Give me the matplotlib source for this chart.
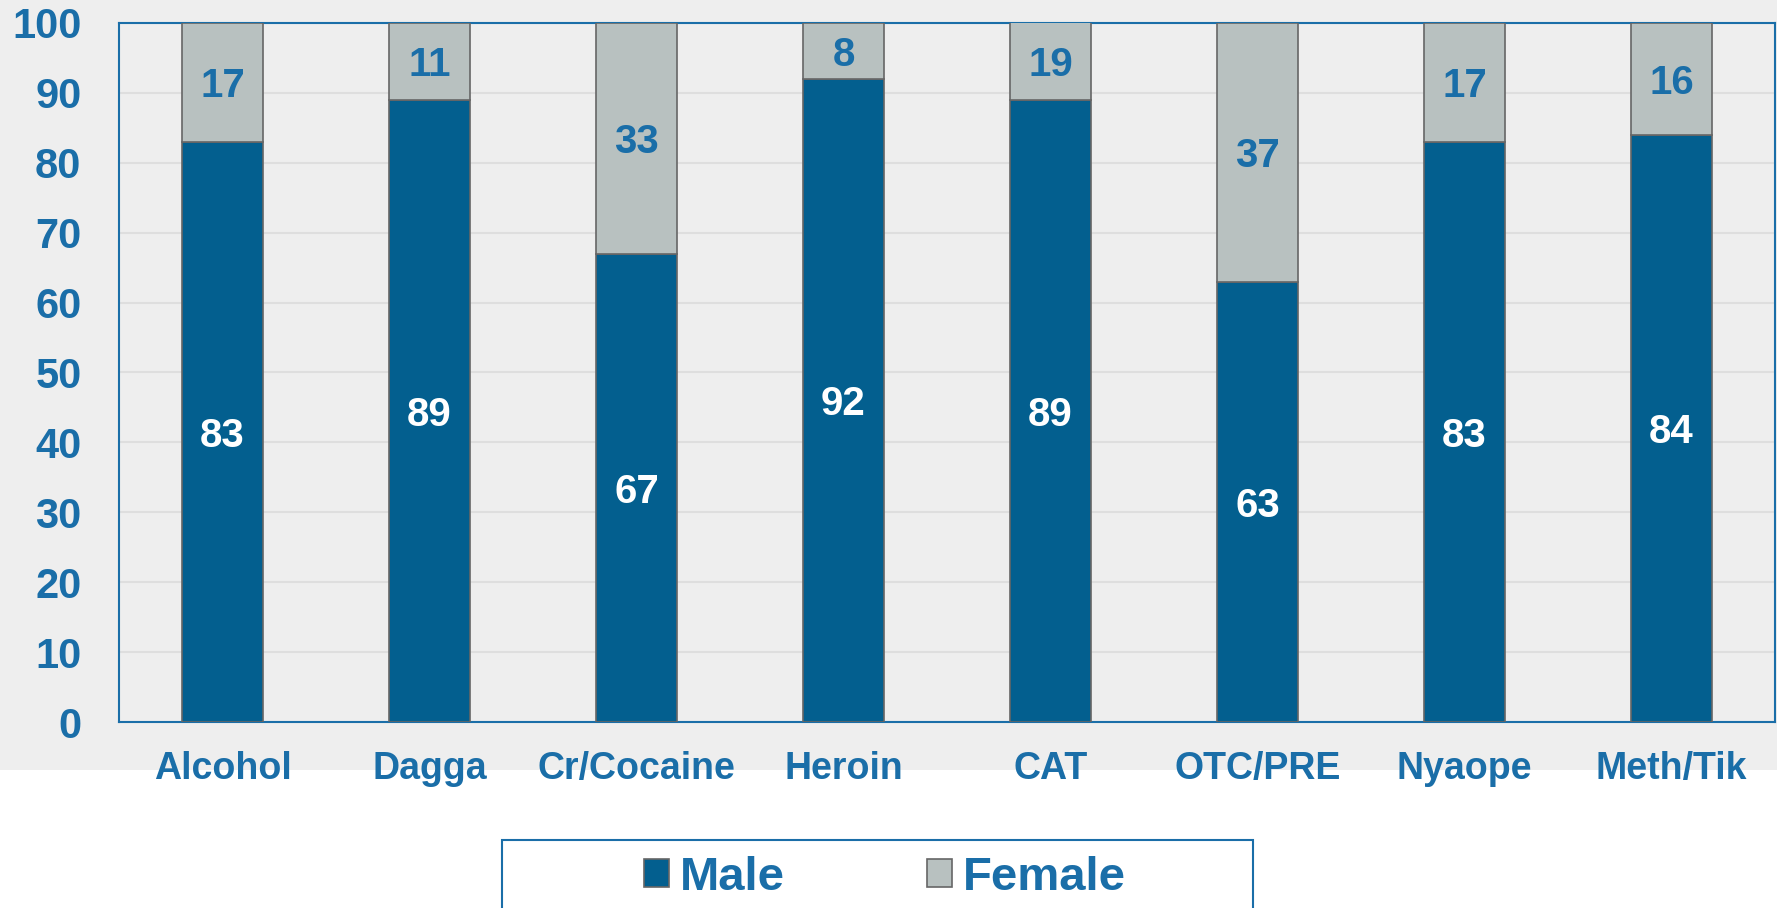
import matplotlib
matplotlib.use("Agg")
import matplotlib.pyplot as plt
from matplotlib.patches import Rectangle

categories = ["Alcohol", "Dagga", "Cr/Cocaine", "Heroin", "CAT", "OTC/PRE", "Nyaope", "Meth/Tik"]
male = [83, 89, 67, 92, 89, 63, 83, 84]
female = [17, 11, 33, 8, 19, 37, 17, 16]
yticks = [0, 10, 20, 30, 40, 50, 60, 70, 80, 90, 100]

BLUE_TXT = "#1a6ea8"
MALE_C = "#035f8f"
FEMALE_C = "#b8c1c0"
BG = "#eeeeee"

plt.rcParams['font.family'] = ['Liberation Sans', 'DejaVu Sans']
plt.rcParams['font.weight'] = 'bold'

W, H = 1777, 908
fig = plt.figure(figsize=(W / 100, H / 100), dpi=100)
fig.patch.set_facecolor("white")
fig.patches.append(Rectangle((0, (H - 770) / H), 1, 770 / H, transform=fig.transFigure,
                             facecolor=BG, edgecolor="none", zorder=-10))

ax = fig.add_axes([119 / W, (H - 722) / H, (1775 - 119) / W, (722 - 23) / H])
ax.set_facecolor(BG)
x = list(range(len(categories)))
bw = 0.395
ax.bar(x, male, width=bw, color=MALE_C, edgecolor="#666666", linewidth=1.2, zorder=3, label="Male")
ax.bar(x, female, width=bw, bottom=male, color=FEMALE_C, edgecolor="#666666", linewidth=1.2, zorder=3, label="Female")

for xi, m, f in zip(x, male, female):
    ax.text(xi, m / 2, str(m), ha="center", va="center_baseline", color="white", fontsize=29,
            fontweight="bold", zorder=4)
    top = min(100, m + f)
    ax.text(xi, (m + top) / 2, str(f), ha="center", va="center_baseline", color=BLUE_TXT, fontsize=29,
            fontweight="bold", zorder=4)

ax.set_xlim(-0.5, len(categories) - 0.5)
ax.set_ylim(0, 100)
ax.set_yticks(yticks)
ax.set_yticklabels([str(v) for v in yticks])
ax.set_xticks(x)
ax.set_xticklabels(categories)
ax.tick_params(axis="y", length=0, pad=27, labelsize=30, labelcolor=BLUE_TXT)
ax.tick_params(axis="x", length=0, pad=21, labelsize=27, labelcolor=BLUE_TXT)
for lab in ax.get_xticklabels() + ax.get_yticklabels():
    lab.set_fontweight("bold")
ax.grid(axis="y", color="#dedede", linewidth=1.5, zorder=0)
ax.set_axisbelow(True)
for s in ax.spines.values():
    s.set_color(BLUE_TXT)
    s.set_linewidth(1.5)

# legend frame (cut off at the bottom edge as in the reference)
fig.patches.append(Rectangle((502 / W, -0.05), (1253 - 502) / W, (908 - 840) / H + 0.05,
                             transform=fig.transFigure, facecolor="white", edgecolor=BLUE_TXT,
                             linewidth=1.5, zorder=5))
leg = fig.legend(loc="center", bbox_to_anchor=(885 / W, (H - 878) / H), ncol=2, frameon=False,
                 fontsize=34, handlelength=0.53, handleheight=0.53, handletextpad=0.23,
                 columnspacing=3.0, borderaxespad=0, borderpad=0)
leg.set_zorder(6)
for t in leg.get_texts():
    t.set_color(BLUE_TXT)
    t.set_fontweight("bold")

fig.savefig("out.png", dpi=100)
